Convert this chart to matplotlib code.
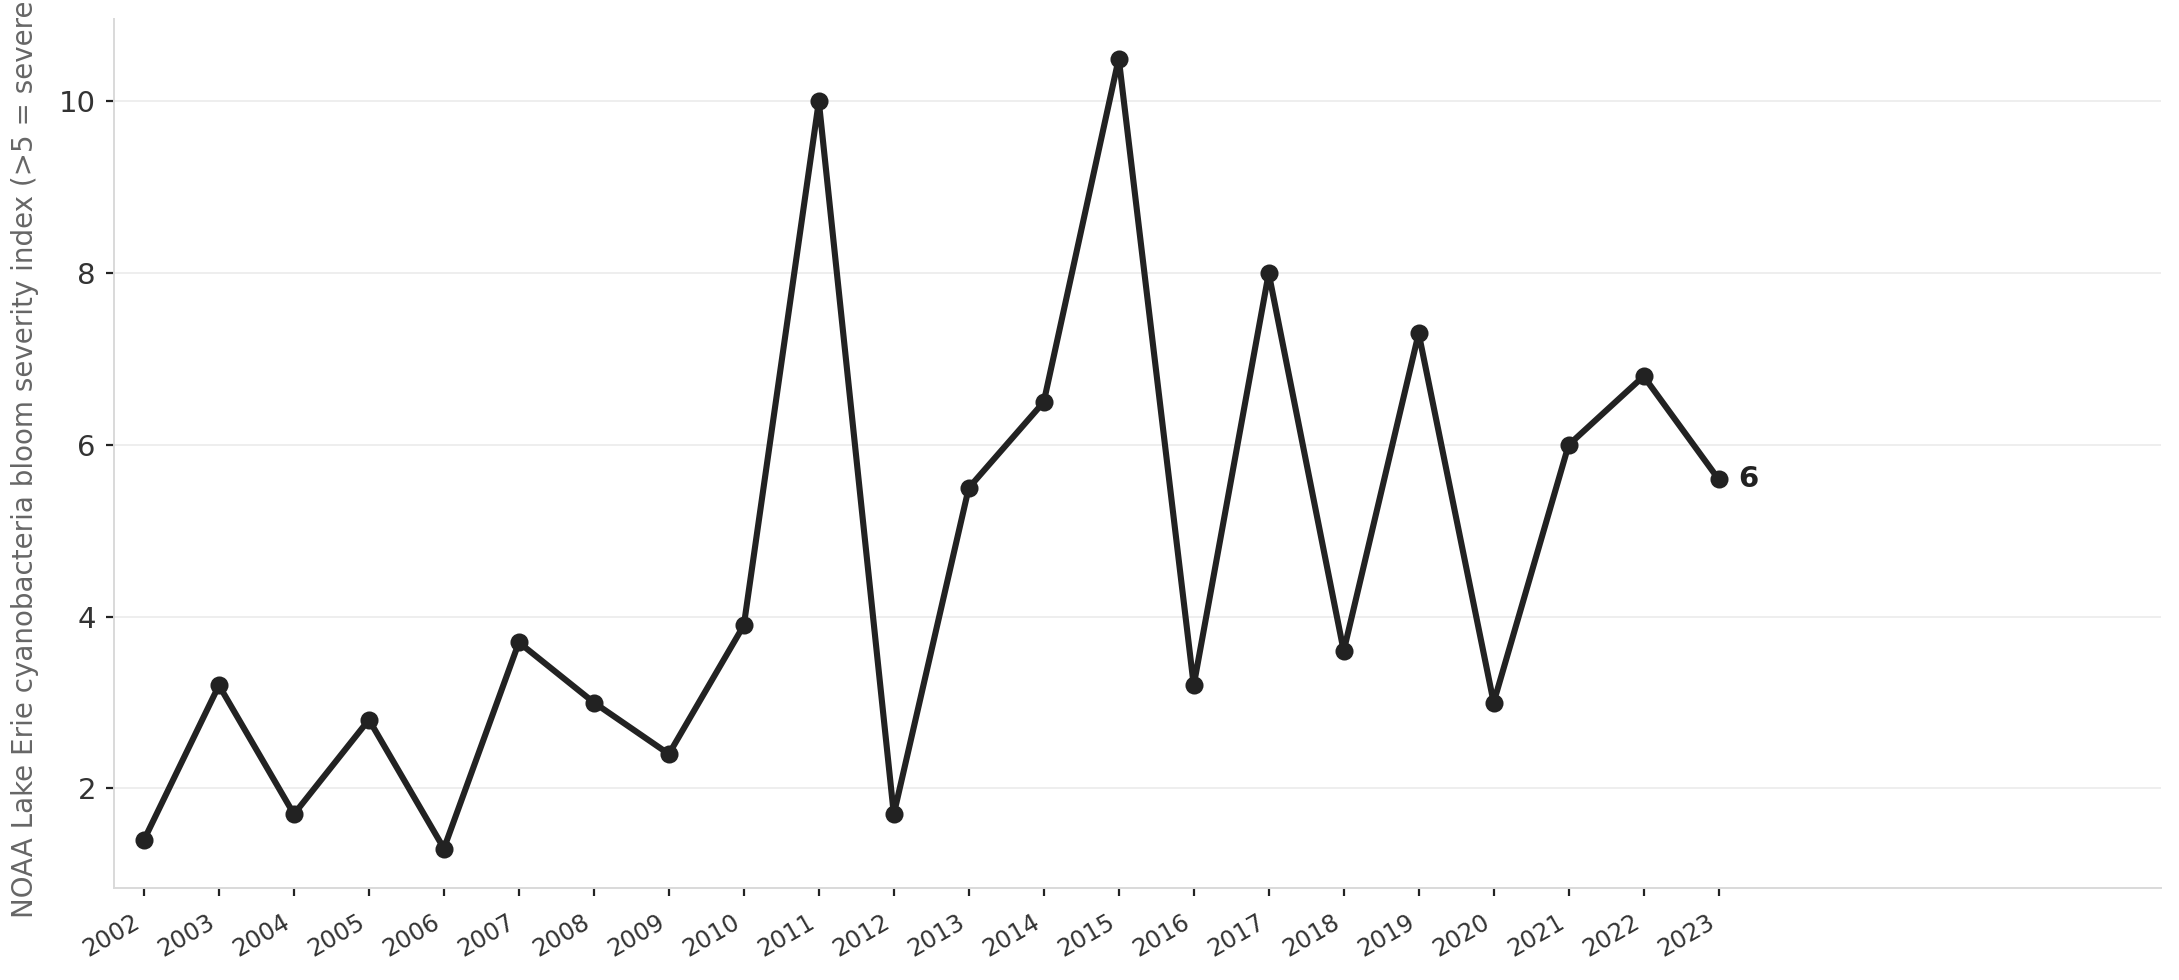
import matplotlib
matplotlib.use("Agg")
import matplotlib.pyplot as plt

years = list(range(2002, 2024))
severity = [1.4, 3.2, 1.7, 2.8, 1.3, 3.7, 3.0, 2.4, 3.9, 10.0, 1.7,
            5.5, 6.5, 10.5, 3.2, 8.0, 3.6, 7.3, 3.0, 6.0, 6.8, 5.6]
ylabel = "NOAA Lake Erie cyanobacteria bloom severity index (>5 = severe)"

plt.rcParams['font.family'] = ['DejaVu Sans']

fig = plt.figure(figsize=(2179 / 200, 980 / 200), dpi=200)
ax = fig.add_axes([114 / 2179, 1 - 888 / 980, (2161 - 114) / 2179, (888 - 19) / 980])

line_color = "#222222"
ax.plot(years, severity, color=line_color, lw=2.2, marker="o", ms=5.5, zorder=3)

ax.annotate(f"{severity[-1]:.0f}", xy=(years[-1], severity[-1]), xytext=(7, 0),
            textcoords="offset points", ha="left", va="center",
            fontsize=10.5, fontweight="bold", color=line_color)

ax.set_xlim(2001.6, 2028.9)
ax.margins(y=0.05)
ax.set_xticks(years)
ax.set_xticklabels([str(y) for y in years], rotation=30, ha="right")
ax.set_yticks([2, 4, 6, 8, 10])

ax.grid(axis="y", color="#ebebeb", lw=0.6, zorder=0)
ax.set_axisbelow(True)
for s in ["top", "right"]:
    ax.spines[s].set_visible(False)
for s in ["left", "bottom"]:
    ax.spines[s].set_color("#d9d9d9")
    ax.spines[s].set_linewidth(0.7)

ax.tick_params(axis="both", colors="#222222", labelcolor="#333333",
               length=3, width=0.8)
ax.tick_params(axis="y", labelsize=10.5)
ax.tick_params(axis="x", labelsize=8.7, pad=5)
ax.set_ylabel(ylabel, fontsize=10, color="#666666", labelpad=7)

fig.savefig("out.png", dpi=200)
